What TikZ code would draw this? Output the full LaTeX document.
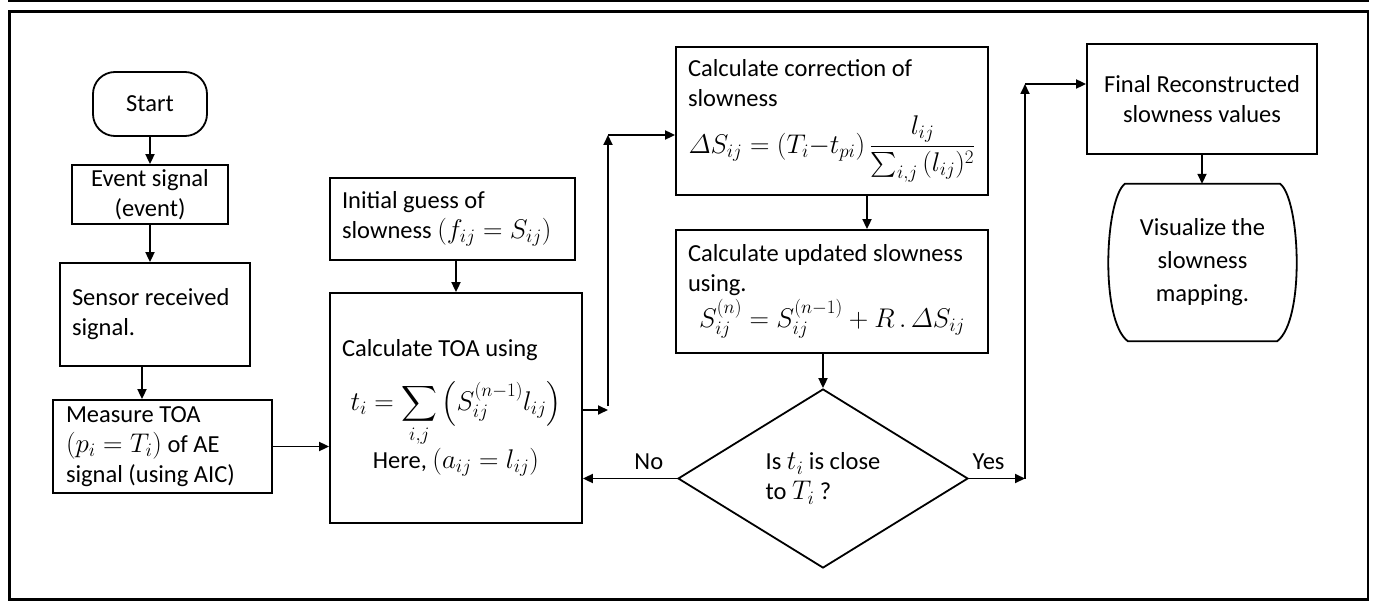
\RequirePackage{fix-cm}
\documentclass[tikz,border=0pt]{standalone}
\usepackage{amsmath}
\usepackage{fontspec}
\setmainfont{Carlito}
\DeclareMathSizes{24.5}{27}{19}{14}
\usetikzlibrary{arrows.meta,shapes.geometric,calc}

\begin{document}
\begin{tikzpicture}[x=1pt,y=-1pt,
  every node/.style={font=\fontsize{24.5}{30}\selectfont, inner sep=0pt},
  box/.style={draw, line width=1.8pt, rectangle},
  arr/.style={line width=1.8pt, -{Triangle[length=10pt,width=9pt]}},
  plain/.style={line width=1.8pt},
  lab/.style={font=\fontsize{24.5}{30}\selectfont}
]
\useasboundingbox (0,0) rectangle (1375,601);
\fill (8,0) rectangle (1369,2.5);
\draw[line width=2.5pt] (9.3,11.3) rectangle (1368,599.6);

% nodes
\node[box, rounded corners=22pt, minimum width=114pt, minimum height=64pt] (start) at (150,104) {Start};
\node[box, minimum width=156pt, minimum height=59pt, align=flush center] (event) at (150,194.5) {Event signal\\(event)};
\node[box, minimum width=190pt, minimum height=103pt, text width=166pt, align=flush left] (sensor) at (155,314.5) {Sensor received\\signal.};
\node[box, minimum width=219pt, minimum height=93pt, text width=193pt, align=flush left] (measure) at (162.5,446.5) {Measure TOA\\$(p_i = T_i)$ of AE\\signal (using AIC)};
\node[box, minimum width=245pt, minimum height=82pt, text width=221pt, align=flush left] (init) at (452.5,219) {Initial guess of\\slowness $(f_{ij} = S_{ij})$};
\node[box, minimum width=252pt, minimum height=230pt, text width=228pt, align=flush left] (toa) at (456,408) {Calculate TOA using\\[20pt]\makebox[\hsize][c]{$\displaystyle t_i = \sum_{i,j}\left(S_{ij}^{(n-1)}l_{ij}\right)$}\\[1pt]\makebox[\hsize][c]{Here, $(a_{ij} = l_{ij})$}};
\node[box, minimum width=312pt, minimum height=148pt, text width=288pt, align=flush left] (corr) at (832,121) {Calculate correction of\\slowness\\[8pt]\makebox[\hsize][c]{$\varDelta S_{ij} = (T_i{-}t_{pi})\,\dfrac{l_{ij}}{\sum_{i,j}\,(l_{ij})^2}$}};
\node[box, minimum width=312pt, minimum height=123pt, text width=288pt, align=flush left] (upd) at (832,291.5) {Calculate updated slowness\\using.\\[2pt]\makebox[\hsize][c]{$S_{ij}^{(n)} = S_{ij}^{(n-1)} + R\,.\,\varDelta S_{ij}$}};
\node[draw, line width=1.8pt, diamond, shape aspect=1.62, minimum width=290pt, minimum height=179pt, align=flush left] (dec) at (823,478.5) {Is $t_i$ is close\\to $T_i$ ?};
\node[box, minimum width=230pt, minimum height=110pt, align=flush center] (final) at (1202,99) {Final Reconstructed\\slowness values};
\node[minimum width=191pt, minimum height=157pt, align=flush center, font=\fontsize{24.5}{33}\selectfont] (vis) at (1202.5,262.5) {Visualize the\\slowness\\mapping.};
\draw[plain] ($(vis.north west)+(18,0)$) -- ($(vis.north east)+(-18,0)$)
  .. controls ($(vis.north east)+(2,16)$) and ($(vis.south east)+(7,-21)$) .. ($(vis.south east)+(-21,0)$)
  -- ($(vis.south west)+(21,0)$)
  .. controls ($(vis.south west)+(-7,-21)$) and ($(vis.north west)+(-2,16)$) .. ($(vis.north west)+(18,0)$) -- cycle;

% connectors
\coordinate (j1) at (608,410);
\coordinate (j2) at (608,135);
\coordinate (j3) at (1025,478.5);
\coordinate (j4) at (1025,84);
\draw[arr] (start) -- (event);
\draw[arr] (event.south) -- (event.south |- sensor.north);
\draw[arr] ([xshift=-13pt]sensor.south) -- ([xshift=-13pt]sensor.south |- measure.north);
\draw[arr] (measure.east) -- (measure.east -| toa.west);
\draw[arr] (toa.north |- init.south) -- (toa.north);
\draw[arr] (toa.east |- j1) -- (j1);
\draw[arr] ([yshift=4pt]j1) -- (j2);
\draw[arr] (j2) -- (j2 -| corr.west);
\draw[arr] ([xshift=35pt]corr.south) -- ([xshift=35pt]corr.south |- upd.north);
\draw[arr] (dec.north |- upd.south) -- (dec.north);
\draw[arr] (dec.west) -- (dec.west -| toa.east) node[lab, pos=0.3, above=8pt] (nolab) {No};
\draw[arr] (dec.east) -- (j3) node[lab, pos=0.35, above=8pt] (yeslab) {Yes};
\draw[arr] (j3) -- (j4);
\draw[arr] (j4) -- (j4 -| final.west);
\draw[arr] (final.south) -- (final.south |- vis.north);
\end{tikzpicture}
\end{document}
